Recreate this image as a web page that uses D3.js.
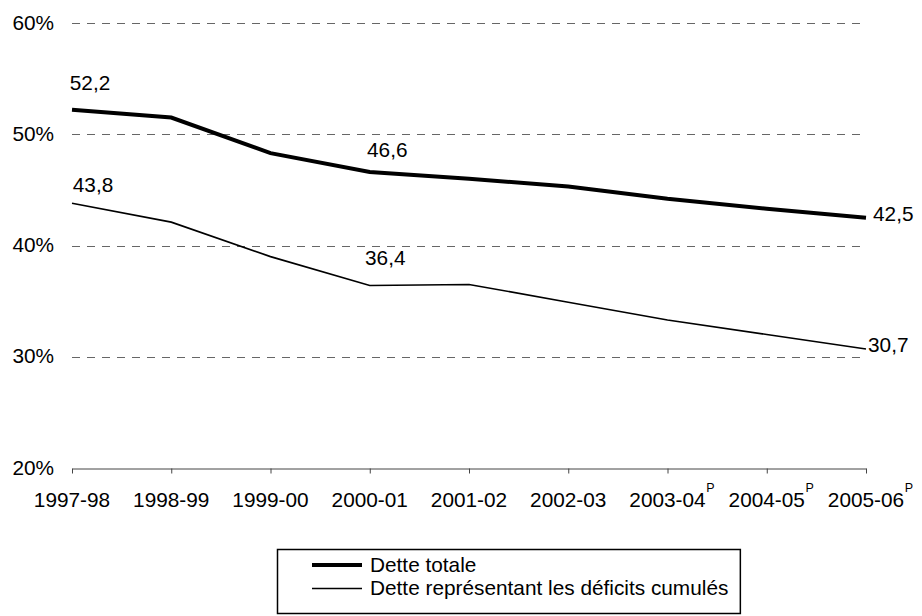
<!DOCTYPE html>
<html>
<head>
<meta charset="utf-8">
<script src="https://cdn.jsdelivr.net/npm/d3@7/dist/d3.min.js"></script>
<style>
  html, body { margin: 0; padding: 0; background: #fff; }
  svg { display: block; font-family: "Liberation Sans", Arial, sans-serif; }
</style>
</head>
<body>
<svg id="chart" width="922" height="616"></svg>
<script>
// ---- data ----
const categories = ["1997-98", "1998-99", "1999-00", "2000-01", "2001-02", "2002-03", "2003-04", "2004-05", "2005-06"];
const provisional = [false, false, false, false, false, false, true, true, true];
const detteTotale = [52.2, 51.5, 48.3, 46.6, 46.0, 45.3, 44.2, 43.3, 42.5];
const detteDeficits = [43.8, 42.1, 39.0, 36.4, 36.5, 34.9, 33.3, 32.0, 30.7];
const yTicks = [20, 30, 40, 50, 60];
const seriesNames = ["Dette totale", "Dette représentant les déficits cumulés"];
// indices of points that carry a value label
const labelledTotale = [0, 3, 8];
const labelledDeficits = [0, 3, 8];

// ---- layout ----
const svg = d3.select("#chart");
const fs = 20.8;
const x = d3.scalePoint().domain(categories).range([72, 866]).padding(0);
const y = d3.scaleLinear().domain([20, 60]).range([468, 23]);
const fmt = v => d3.format(".1f")(v).replace(".", ",");

// gridlines (dashed) for ticks above the base
svg.append("g").selectAll("line")
  .data(yTicks.filter(t => t > 20))
  .join("line")
  .attr("x1", 72).attr("x2", 866)
  .attr("y1", d => Math.round(y(d)) + 0.5).attr("y2", d => Math.round(y(d)) + 0.5)
  .attr("stroke", "#666").attr("stroke-width", 1)
  .attr("stroke-dasharray", "8,7");

// y tick labels
svg.append("g").selectAll("text")
  .data(yTicks)
  .join("text")
  .attr("x", 54).attr("y", d => y(d))
  .attr("dy", "0.32em")
  .attr("text-anchor", "end")
  .attr("font-size", fs)
  .attr("fill", "#000")
  .text(d => d + "%");

// x axis
const xAxis = d3.axisBottom(x).tickSize(5).tickSizeOuter(0).tickFormat("");
const gx = svg.append("g")
  .attr("transform", `translate(0,${Math.round(y(20)) + 0.5})`)
  .call(xAxis);
gx.select(".domain").attr("stroke", "#444");
gx.selectAll(".tick line").attr("stroke", "#444");

// x labels
const xl = svg.append("g");
categories.forEach((c, i) => {
  const t = xl.append("text")
    .attr("x", x(c)).attr("y", 506.5)
    .attr("text-anchor", "middle")
    .attr("font-size", fs)
    .attr("fill", "#000")
    .text(c);
  if (provisional[i]) {
    const w = t.node().getComputedTextLength();
    xl.append("text")
      .attr("x", x(c) + w / 2 + 0.5).attr("y", 492)
      .attr("font-size", 12.5)
      .attr("fill", "#000")
      .text("P");
  }
});

// lines
const line = d3.line().x((d, i) => x(categories[i])).y(d => y(d));
svg.append("path").datum(detteDeficits)
  .attr("d", line).attr("fill", "none")
  .attr("stroke", "#000").attr("stroke-width", 1.6)
  .attr("stroke-linejoin", "miter");
svg.append("path").datum(detteTotale)
  .attr("d", line).attr("fill", "none")
  .attr("stroke", "#000").attr("stroke-width", 4)
  .attr("stroke-linejoin", "miter");

// value labels
function addLabels(values, idx, offs) {
  idx.forEach((i, k) => {
    const o = offs[k];
    svg.append("text")
      .attr("x", x(categories[i]) + o[0])
      .attr("y", y(values[i]) + o[1])
      .attr("text-anchor", o[2])
      .attr("font-size", fs)
      .attr("fill", "#000")
      .text(fmt(values[i]));
  });
}
addLabels(detteTotale, labelledTotale, [[18, -20, "middle"], [17.5, -15, "middle"], [7, 3.5, "start"]]);
addLabels(detteDeficits, labelledDeficits, [[21, -11, "middle"], [15.5, -21, "middle"], [2, 3.5, "start"]]);

// legend
const lg = svg.append("g");
const line2 = lg.append("text")
  .attr("x", 370).attr("y", 595)
  .attr("font-size", fs).attr("fill", "#000")
  .text(seriesNames[1]);
lg.append("text")
  .attr("x", 370).attr("y", 571.5)
  .attr("font-size", fs).attr("fill", "#000")
  .text(seriesNames[0]);
const tw = line2.node().getComputedTextLength();
lg.insert("rect", ":first-child")
  .attr("x", 277.5).attr("y", 549.5)
  .attr("width", (370 + tw + 12) - 277.5).attr("height", 64)
  .attr("fill", "#fff").attr("stroke", "#000").attr("stroke-width", 1.5);
lg.append("line").attr("x1", 312).attr("x2", 362).attr("y1", 565).attr("y2", 565)
  .attr("stroke", "#000").attr("stroke-width", 4);
lg.append("line").attr("x1", 312).attr("x2", 362).attr("y1", 588.5).attr("y2", 588.5)
  .attr("stroke", "#000").attr("stroke-width", 1.6);
</script>
</body>
</html>
